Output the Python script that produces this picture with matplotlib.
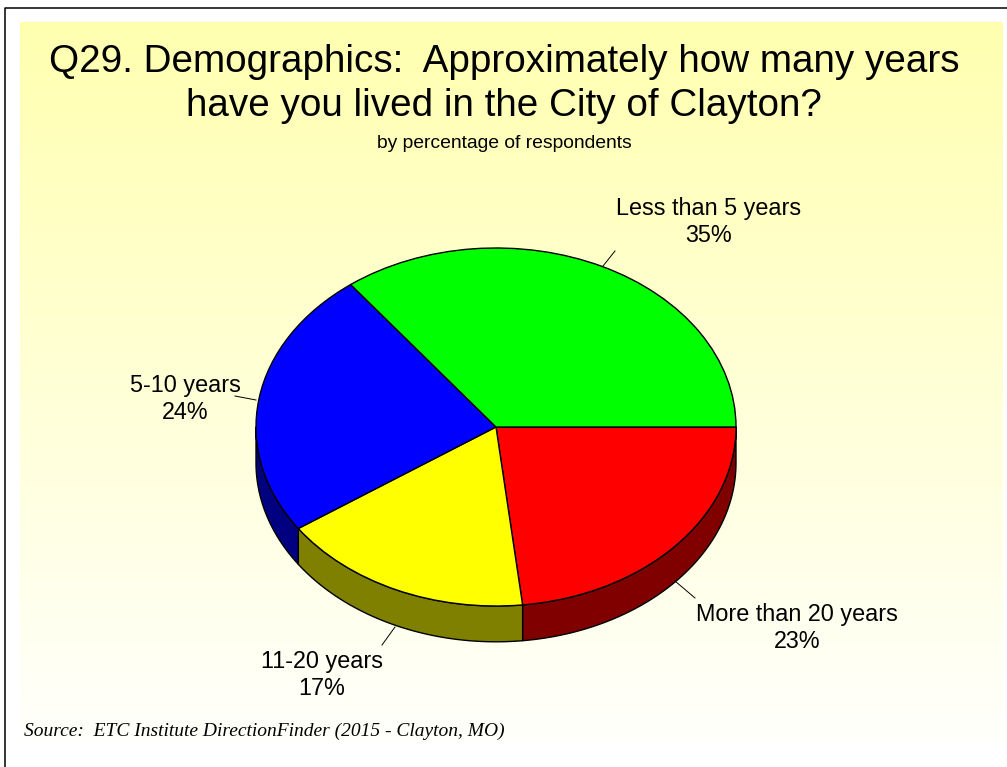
import numpy as np
import matplotlib
matplotlib.use("Agg")
import matplotlib.pyplot as plt
from matplotlib.colors import LinearSegmentedColormap

categories = ["More than 20 years", "11-20 years", "5-10 years", "Less than 5 years"]
values = [23, 17, 24, 35]
top_colors = ["#FF0000", "#FFFF00", "#0000FF", "#00FF00"]
side_colors = ["#800000", "#808000", "#000080", "#008000"]
title = "Q29. Demographics:  Approximately how many years\nhave you lived in the City of Clayton?"
subtitle = "by percentage of respondents"
source = "Source:  ETC Institute DirectionFinder (2015 - Clayton, MO)"

W, H = 1007, 767
plt.rcParams["font.family"] = ["Liberation Sans", "DejaVu Sans"]
fig = plt.figure(figsize=(W / 100, H / 100), dpi=100, facecolor="white")

# page layer in pixel coordinates
bg = fig.add_axes([0, 0, 1, 1])
bg.set_xlim(0, W); bg.set_ylim(H, 0); bg.axis("off")
cmap = LinearSegmentedColormap.from_list("bg", ["#FFFFB0", "#FFFFFC"])
bg.imshow(np.linspace(0, 1, 256)[:, None], cmap=cmap, aspect="auto",
          extent=(20, 1003, 742, 22), zorder=0)
bg.set_xlim(0, W); bg.set_ylim(H, 0)
bg.plot([4.5, 4.5, W], [H, 7.5, 7.5], color="black", lw=1.1, zorder=1, solid_capstyle="butt")

# pie layer: unit circle squashed to an ellipse by the axes box
cx, cy, rx, ry = 496, 427, 240, 179
depth = 0.2
pie_ax = fig.add_axes([(cx - rx) / W, 1 - (cy + ry) / H, 2 * rx / W, 2 * ry / H])
total = sum(values)
bounds = -np.cumsum([0] + values) / total * 360.0
for i, col in enumerate(side_colors):
    a0, a1 = bounds[i], bounds[i + 1]           # clockwise, a1 < a0
    lo, hi = max(a1, -180.0), min(a0, 0.0)
    if hi <= lo:
        continue
    t = np.radians(np.linspace(hi, lo, 80))
    xs = np.r_[np.cos(t), np.cos(t[::-1])]
    ys = np.r_[np.sin(t), np.sin(t[::-1]) - depth]
    pie_ax.fill(xs, ys, facecolor=col, edgecolor="black", lw=1.0, clip_on=False,
                joinstyle="round", zorder=1)
wedges, _ = pie_ax.pie(values, colors=top_colors, startangle=0, counterclock=False,
                       radius=1.0, wedgeprops=dict(edgecolor="black", linewidth=1.0, zorder=2))
for w in wedges:
    w.set_clip_on(False)
pie_ax.set_aspect("auto")
pie_ax.set_xlim(-1, 1); pie_ax.set_ylim(-1, 1)
pie_ax.axis("off")

# texts
top = fig.add_axes([0, 0, 1, 1])
top.set_xlim(0, W); top.set_ylim(H, 0); top.axis("off"); top.patch.set_alpha(0)
top.text(504, 84, title, ha="center", va="center", fontsize=27.85, color="black", linespacing=1.3)
top.text(504, 144, subtitle, ha="center", va="center", fontsize=13.9, color="black")
top.text(24, 731, source, ha="left", va="center", fontsize=14.0, style="italic",
         family=["Liberation Serif"], color="black")

label_pos = [(797, 628), (322, 675), (185, 399), (709, 222)]
leaders = [((675, 581), (695, 598)), ((395, 627), (382, 645)),
           ((256, 400), (235, 396)), ((603, 266), (615, 251))]
for name, val, (lx, ly), (p, q) in zip(categories, values, label_pos, leaders):
    top.text(lx, ly, f"{name}\n{val}%", ha="center", va="center", fontsize=16.8,
             linespacing=1.2, color="black")
    top.plot([p[0], q[0]], [p[1], q[1]], color="black", lw=0.7)

fig.savefig("out.png", dpi=100, facecolor="white")
